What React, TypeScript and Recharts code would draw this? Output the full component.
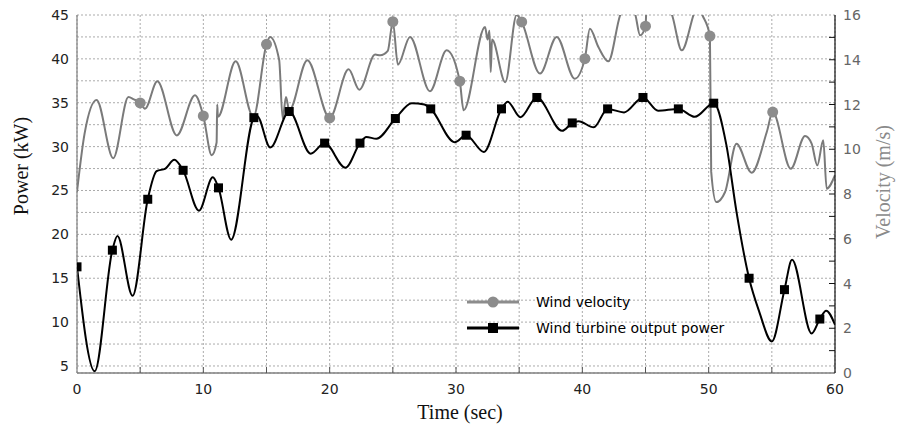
import React from 'react';
import { LineChart, Line, XAxis, YAxis, CartesianGrid, Legend } from 'recharts';

// ---- Data ----
const powerTime = [0, 1.4, 2.8, 3.2, 4.4, 5.6, 6.3, 7.0, 7.7, 8.4, 9.65, 10.75, 11.2, 12.2, 14.0, 14.25, 15.3, 16.8, 18.5, 19.6, 21.25, 22.4, 22.9, 23.7, 25.2, 26.5, 27.5, 28.0, 29.9, 30.8, 32.2, 33.6, 34.1, 35.1, 36.4, 38.4, 39.2, 39.7, 40.9, 42.0, 43.3, 44.8, 46.0, 47.6, 48.9, 50.4, 51.4, 52.2, 53.2, 54.0, 55.0, 56.0, 56.6, 58.15, 58.8, 59.3, 60];
const powerKW = [16.3, 4.4, 18.2, 19.8, 13.0, 24.0, 27.2, 27.5, 28.5, 27.3, 22.7, 26.5, 25.3, 19.4, 33.3, 33.5, 29.9, 34.0, 29.2, 30.4, 27.6, 30.4, 31.1, 30.9, 33.2, 34.95, 34.8, 34.3, 30.5, 31.3, 29.4, 34.3, 35.1, 33.35, 35.6, 31.8, 32.7, 32.9, 32.2, 34.3, 33.9, 35.6, 34.1, 34.3, 33.4, 34.95, 30.2, 22.6, 15.0, 11.2, 7.8, 13.7, 17.1, 8.7, 10.35, 11.3, 9.7];
const powerMarkerTimes = [0, 2.8, 5.6, 8.4, 11.2, 14.0, 16.8, 19.6, 22.4, 25.2, 28.0, 30.8, 33.6, 36.4, 39.2, 42.0, 44.8, 47.6, 50.4, 53.2, 56.0, 58.8];

const velocityTime = [0, 0.6, 1.55, 2.87, 4.07, 4.5, 5.0, 5.38, 6.36, 7.9, 9.34, 10.0, 10.66, 11.05, 11.1, 11.15, 12.56, 13.96, 15.0, 15.28, 16.0, 16.28, 16.54, 16.8, 18.23, 20.0, 21.5, 22.35, 23.6, 24.0, 24.6, 25.0, 25.4, 26.36, 27.94, 29.26, 30.3, 30.6, 32.3, 32.5, 32.65, 32.75, 32.85, 33.9, 34.8, 35.2, 36.65, 37.97, 39.4, 40.2, 40.6, 41.27, 42.06, 43.0, 43.6, 44.2, 44.57, 45.0, 45.1, 46.0, 47.1, 47.87, 48.8, 49.1, 49.5, 50.1, 50.2, 50.6, 51.3, 52.2, 53.4, 54.6, 55.07, 56.5, 57.63, 58.15, 58.6, 59.07, 59.34, 60];
const velocityMS = [8.1, 10.7, 12.2, 9.6, 12.33, 12.23, 12.07, 11.81, 13.04, 10.62, 12.41, 11.49, 9.73, 10.3, 12.0, 11.45, 13.93, 11.44, 14.69, 15.02, 14.0, 11.37, 12.33, 11.74, 13.98, 11.4, 13.57, 12.66, 14.23, 14.2, 14.4, 15.7, 13.78, 15.02, 12.59, 14.42, 13.04, 11.74, 15.46, 14.9, 15.3, 13.45, 14.9, 13.0, 16.0, 15.69, 13.38, 15.02, 13.15, 14.05, 15.39, 14.57, 13.93, 16.0, 16.6, 16.0, 15.09, 15.5, 16.5, 16.9, 16.0, 14.42, 16.0, 16.5, 16.0, 15.06, 9.0, 7.64, 8.09, 10.25, 8.95, 10.77, 11.66, 9.13, 10.59, 10.25, 9.28, 10.4, 8.24, 8.84];
const velocityMarkerTimes = [5.0, 10.0, 15.0, 20.0, 25.0, 30.3, 35.2, 40.2, 45.0, 50.1, 55.07];

const timeTicks = [0, 5, 10, 15, 20, 25, 30, 35, 40, 45, 50, 55, 60];
const powerTicks = [5, 7.5, 10, 12.5, 15, 17.5, 20, 22.5, 25, 27.5, 30, 32.5, 35, 37.5, 40, 42.5, 45];
const velocityTicks = [0, 1, 2, 3, 4, 5, 6, 7, 8, 9, 10, 11, 12, 13, 14, 15, 16];

const powerData = powerTime.map((t, i) => ({ t, p: powerKW[i] }));
const velocityData = velocityTime.map((t, i) => ({ t, v: velocityMS[i] }));
const powerMarkSet = new Set(powerMarkerTimes);
const velocityMarkSet = new Set(velocityMarkerTimes);

const SANS = '"DejaVu Sans", Verdana, sans-serif';
const SERIF = '"Liberation Serif", "Times New Roman", serif';
const VGREY = '#7a7a7a';
const VMARK = '#8c8c8c';

const renderSquare = (props: any) => {
  const { cx, cy, payload, index } = props;
  if (!powerMarkSet.has(payload.t)) return <g key={`ps-${index}`} />;
  return <rect key={`ps-${index}`} x={cx - 4.5} y={cy - 4.5} width={9} height={9} fill="#000" />;
};

const renderCircle = (props: any) => {
  const { cx, cy, payload, index } = props;
  if (!velocityMarkSet.has(payload.t)) return <g key={`vc-${index}`} />;
  return <circle key={`vc-${index}`} cx={cx} cy={cy} r={5.5} fill={VMARK} />;
};

const XTick = (props: any) => {
  const { x, y, payload } = props;
  const v = payload.value;
  const showLabel = v % 10 === 0;
  const showTick = v > 0 && v < 60;
  return (
    <g>
      {showTick && <line x1={x} y1={y} x2={x} y2={y - 6} stroke="#555" strokeWidth={1} />}
      {showLabel && (
        <text x={x} y={y + 21} textAnchor="middle" fontFamily={SANS} fontSize={14} fill="#222">
          {v}
        </text>
      )}
    </g>
  );
};

const LeftTick = (props: any) => {
  const { x, y, payload } = props;
  const v = payload.value;
  if (v % 5 !== 0) return <g />;
  return (
    <text x={x - 8} y={y + 5} textAnchor="end" fontFamily={SANS} fontSize={14} fill="#222">
      {v}
    </text>
  );
};

const RightTick = (props: any) => {
  const { x, y, payload } = props;
  const v = payload.value;
  const showTick = v > 0 && v < 16;
  return (
    <g>
      {showTick && <line x1={x} y1={y} x2={x - 6} y2={y} stroke="#111" strokeWidth={1} />}
      {v % 2 === 0 && (
        <text x={x + 8} y={y + 5} textAnchor="start" fontFamily={SANS} fontSize={14} fill="#666">
          {v}
        </text>
      )}
    </g>
  );
};

const renderLegend = () => (
  <svg width={300} height={56} style={{ display: 'block' }}>
    <line x1={7} y1={14} x2={59} y2={14} stroke={VMARK} strokeWidth={3} />
    <circle cx={33} cy={14} r={5.5} fill={VMARK} />
    <text x={76} y={19} fontFamily={SANS} fontSize={14} fill="#000">Wind velocity</text>
    <line x1={7} y1={40} x2={59} y2={40} stroke="#000" strokeWidth={3} />
    <rect x={28} y={35} width={10} height={10} fill="#000" />
    <text x={76} y={45} fontFamily={SANS} fontSize={14} fill="#000">Wind turbine output power</text>
  </svg>
);

export default function App() {
  return (
    <div style={{ position: 'absolute', left: 0, top: 0, width: 899, height: 430, background: '#fff' }}>
      <LineChart width={899} height={430} margin={{ top: 15, right: 0, bottom: 0, left: 0 }}>
        <CartesianGrid stroke="#ababab" strokeDasharray="2 2" strokeWidth={1} />
        <XAxis
          dataKey="t"
          type="number"
          domain={[0, 60]}
          ticks={timeTicks}
          interval={0}
          allowDataOverflow
          height={57}
          tickSize={0}
          tickMargin={0}
          tickLine={false}
          axisLine={{ stroke: '#808080', strokeWidth: 1.5 }}
          tick={(p: any) => <XTick {...p} />}
          label={{
            value: 'Time (sec)',
            content: () => (
              <text x={460} y={419} textAnchor="middle" fontFamily={SERIF} fontSize={20} fill="#111">
                Time (sec)
              </text>
            ),
          }}
        />
        <XAxis
          xAxisId="top"
          orientation="top"
          type="number"
          domain={[0, 60]}
          height={0}
          tick={false}
          tickLine={false}
          axisLine={{ stroke: '#808080', strokeWidth: 1.5 }}
        />
        <YAxis
          yAxisId={0}
          orientation="left"
          width={77}
          type="number"
          domain={[4.2, 45]}
          allowDataOverflow
          ticks={powerTicks}
          interval={0}
          tickSize={0}
          tickMargin={0}
          tickLine={false}
          axisLine={{ stroke: '#808080', strokeWidth: 1.2 }}
          tick={(p: any) => <LeftTick {...p} />}
          label={{
            value: 'Power (kW)',
            content: () => (
              <text x={28} y={166} textAnchor="middle" transform="rotate(-90 28 166)" fontFamily={SERIF} fontSize={20} fill="#111">
                Power (kW)
              </text>
            ),
          }}
        />
        <YAxis
          yAxisId="v"
          orientation="right"
          width={64}
          type="number"
          domain={[0, 16]}
          allowDataOverflow
          ticks={velocityTicks}
          interval={0}
          tickSize={0}
          tickMargin={0}
          tickLine={false}
          axisLine={{ stroke: '#111', strokeWidth: 1.2 }}
          tick={(p: any) => <RightTick {...p} />}
          label={{
            value: 'Velocity (m/s)',
            content: () => (
              <text x={890} y={182} textAnchor="middle" transform="rotate(-90 890 182)" fontFamily={SERIF} fontSize={20} fill="#8a8a8a">
                Velocity (m/s)
              </text>
            ),
          }}
        />
        <Legend
          layout="horizontal"
          verticalAlign="middle"
          align="center"
          content={renderLegend}
          wrapperStyle={{ position: 'absolute', left: 460, top: 288, width: 300, height: 56 }}
        />
        <Line
          yAxisId="v"
          data={velocityData}
          dataKey="v"
          name="Wind velocity"
          type="monotone"
          stroke={VGREY}
          strokeWidth={2}
          dot={renderCircle}
          activeDot={false}
          isAnimationActive={false}
        />
        <Line
          yAxisId={0}
          data={powerData}
          dataKey="p"
          name="Wind turbine output power"
          type="monotone"
          stroke="#000"
          strokeWidth={2}
          dot={renderSquare}
          activeDot={false}
          isAnimationActive={false}
        />
      </LineChart>
    </div>
  );
}
